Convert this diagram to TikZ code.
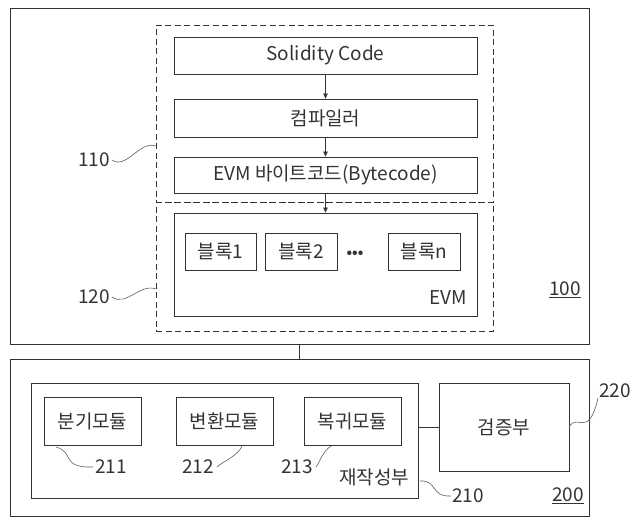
\documentclass[tikz,border=0pt]{standalone}
\usepackage{fontspec}
\setmainfont{Noto Sans CJK KR}
\usetikzlibrary{arrows.meta,calc}
\definecolor{ink}{HTML}{333333}
\tikzset{
  blk/.style={draw=ink, line width=0.8pt, inner sep=0pt, text=ink, font=\fontsize{19}{22}\selectfont},
  dbox/.style={draw=ink, line width=1pt, dash pattern=on 6pt off 3.5pt, inner sep=0pt},
  lbl/.style={text=ink, inner sep=0pt, font=\fontsize{19}{22}\selectfont},
  lead/.style={draw=ink!80, line width=0.6pt},
  flow/.style={draw=ink, line width=0.6pt, -{Triangle[length=5pt,width=4.5pt]}},
  link/.style={draw=ink, line width=0.6pt}
}
\begin{document}
\begin{tikzpicture}[x=1pt,y=-1pt]
\useasboundingbox (0,0) rectangle (633,517);

% device 100
\node[blk, minimum width=579pt, minimum height=336pt] (sys100) at (299.5,176) {};
\node[dbox, minimum width=337pt, minimum height=177pt] (d110) at (324.5,113.5) {};
\node[dbox, minimum width=337pt, minimum height=129pt] (d120) at (324.5,266.5) {};

\node[blk, minimum width=303pt, minimum height=37pt] (sol) at (325.5,55.5) {Solidity Code};
\node[blk, minimum width=303pt, minimum height=38pt] (comp) at (325.5,118) {컴파일러};
\node[blk, minimum width=303pt, minimum height=36pt] (byte) at (325.5,175) {EVM 바이트코드(Bytecode)};
\node[blk, minimum width=303pt, minimum height=103pt] (evm) at (325.5,264.5) {};

\node[blk, minimum width=71pt, minimum height=37pt] (b1) at (220.5,251.5) {블록1};
\node[blk, minimum width=72pt, minimum height=37pt] (b2) at (301,251.5) {블록2};
\node[blk, minimum width=72pt, minimum height=37pt] (bn) at (424,251.5) {블록n};
\node[lbl, font=\fontsize{14}{14}\selectfont\bfseries] (dots) at (355,254) {•••};
\node[lbl] (evmlbl) at (448,298) {EVM};
\node[lbl] (l100) at (565,290) {\underline{100}};

\draw[flow] (sol.south) -- (comp.north);
\draw[flow] (comp.south) -- (byte.north);
\draw[flow] (byte.south) -- (evm.north);

\node[lbl] (l110) at (94,160) {110};
\node[lbl] (l120) at (94,297) {120};
\coordinate (t110) at (156,146);
\coordinate (t120) at (156,289);
\draw[lead] ($(l110.east)+(2,0)$) .. controls +(14,10) and (140,140) .. (t110);
\draw[lead] ($(l120.east)+(2,0)$) .. controls +(14,10) and (140,283) .. (t120);

% device 200
\node[blk, minimum width=579pt, minimum height=157pt] (sys200) at (299.5,437.5) {};
\draw[link] (sys100.south) -- (sys200.north);

\node[blk, minimum width=387pt, minimum height=115pt] (rw210) at (224.5,440.5) {};
\node[blk, minimum width=97pt, minimum height=48pt] (m211) at (92.5,421) {분기모듈};
\node[blk, minimum width=97pt, minimum height=48pt] (m212) at (224.5,421) {변환모듈};
\node[blk, minimum width=97pt, minimum height=48pt] (m213) at (352.5,421) {복귀모듈};
\node[blk, minimum width=130pt, minimum height=88pt] (ver) at (504,427) {검증부};
\draw[link] (ver.west) -- (ver.west -| rw210.east);

\node[lbl] (rwlbl) at (374,477) {재작성부};
\node[lbl] (l211) at (111,467) {211};
\node[lbl] (l212) at (198,467) {212};
\node[lbl] (l213) at (297,467) {213};
\node[lbl] (l210) at (468,496) {210};
\node[lbl] (l200) at (568,496) {\underline{200}};
\node[lbl] (l220) at (615,391) {220};

\coordinate (t211) at (56,447);
\coordinate (t212) at (242,446);
\coordinate (t213) at (331,446);
\coordinate (t210) at (420,481);
\coordinate (t220) at (569,427);

\draw[lead] (t211) .. controls (75,452) and (60,468) .. ($(l211.west)+(-2,0)$);
\draw[lead] ($(l212.east)+(3,0)$) .. controls (222,462) and (238,456) .. (t212);
\draw[lead] ($(l213.east)+(3,0)$) .. controls (320,462) and (322,452) .. (t213);
\draw[lead] (t210) .. controls (438,480) and (430,497) .. ($(l210.west)+(-1,0)$);
\draw[lead] (t220) .. controls (578,412) and (588,440) .. ($(l220.south west)+(-1,0)$);
\end{tikzpicture}
\end{document}
